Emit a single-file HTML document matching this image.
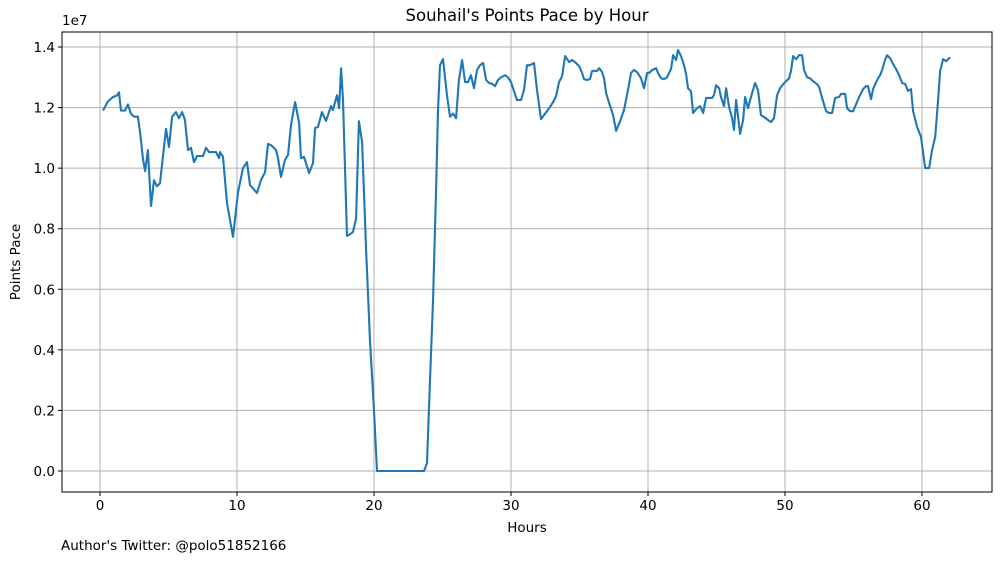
<!DOCTYPE html>
<html><head><meta charset="utf-8"><style>
body{margin:0;background:#fff;}
svg text{font-family:"DejaVu Sans","Liberation Sans",sans-serif;fill:#000;}
</style></head><body>
<svg id="chart" width="1001" height="562" viewBox="0 0 1001 562" xmlns="http://www.w3.org/2000/svg">
<rect x="0" y="0" width="1001" height="562" fill="#fff"/>
<g id="grid"></g>
<g id="ticks"></g>
<path id="line" fill="none" stroke="#1f77b4" stroke-width="2.1" stroke-linejoin="round"/>
<rect x="62" y="32" width="930" height="460" fill="none" stroke="#000" stroke-width="1"/>
<text x="527" y="21" font-size="16.5" text-anchor="middle">Souhail's Points Pace by Hour</text>
<text x="62" y="25" font-size="13.5">1e7</text>
<text x="527" y="532" font-size="13.5" text-anchor="middle">Hours</text>
<text x="20" y="262" font-size="13.5" text-anchor="middle" transform="rotate(-90 20 262)">Points Pace</text>
<text x="61" y="550" font-size="13.5">Author's Twitter: @polo51852166</text>
</svg>
<script>
const xTicks=[0,10,20,30,40,50,60];
const yTicks=[0,0.2,0.4,0.6,0.8,1.0,1.2,1.4];
const yTickLabels=["0.0","0.2","0.4","0.6","0.8","1.0","1.2","1.4"];
const hours=[0.22,0.58,0.95,1.24,1.39,1.53,1.83,2.04,2.26,2.48,2.77,2.92,3.14,3.29,3.5,3.72,3.94,4.16,4.38,4.6,4.82,5.04,5.26,5.55,5.77,5.99,6.2,6.42,6.64,6.86,7.08,7.3,7.52,7.74,7.96,8.25,8.47,8.69,8.76,8.98,9.27,9.71,10.07,10.44,10.73,10.95,11.46,11.75,12.05,12.26,12.48,12.85,12.99,13.21,13.5,13.72,13.94,14.24,14.53,14.67,14.89,15.26,15.55,15.7,15.91,16.2,16.5,16.86,17.0,17.3,17.45,17.6,17.74,18.03,18.25,18.47,18.69,18.9,19.13,19.42,19.71,20.0,20.22,23.65,23.87,24.09,24.31,24.53,24.67,24.82,25.04,25.33,25.55,25.77,25.99,26.2,26.43,26.65,26.86,27.08,27.3,27.52,27.74,27.96,28.18,28.4,28.62,28.84,29.05,29.27,29.57,29.78,30.0,30.22,30.44,30.73,30.95,31.17,31.39,31.68,31.9,32.19,32.41,32.63,32.85,33.07,33.29,33.5,33.73,33.95,34.24,34.46,34.68,34.97,35.19,35.33,35.55,35.77,35.92,36.28,36.43,36.65,36.79,36.94,37.16,37.45,37.67,37.96,38.25,38.54,38.76,38.98,39.2,39.49,39.71,39.93,40.08,40.3,40.59,40.73,40.95,41.17,41.39,41.68,41.83,42.05,42.19,42.41,42.63,42.78,42.92,43.14,43.29,43.58,43.8,44.02,44.24,44.46,44.68,44.82,44.97,45.19,45.33,45.55,45.7,45.92,46.14,46.28,46.43,46.72,46.94,47.09,47.3,47.6,47.82,48.03,48.25,48.47,48.76,48.98,49.2,49.42,49.64,49.86,50.08,50.3,50.44,50.59,50.81,51.03,51.25,51.39,51.61,51.83,52.05,52.34,52.49,52.71,53.0,53.22,53.44,53.66,53.95,54.09,54.39,54.53,54.75,54.97,55.19,55.41,55.7,55.92,56.06,56.28,56.43,56.72,56.94,57.09,57.3,57.45,57.67,57.89,58.11,58.33,58.55,58.77,58.98,59.2,59.35,59.64,59.93,60.23,60.52,60.74,60.96,61.17,61.32,61.54,61.76,62.05];
const pace=[1.19,1.22,1.235,1.24,1.25,1.19,1.19,1.21,1.18,1.17,1.17,1.12,1.03,0.99,1.06,0.875,0.96,0.94,0.95,1.04,1.13,1.07,1.17,1.185,1.165,1.185,1.16,1.06,1.067,1.02,1.04,1.04,1.04,1.067,1.053,1.053,1.053,1.033,1.053,1.037,0.885,0.773,0.92,1.0,1.02,0.944,0.918,0.961,0.987,1.08,1.076,1.06,1.033,0.971,1.027,1.043,1.142,1.218,1.149,1.033,1.037,0.984,1.017,1.133,1.136,1.185,1.156,1.205,1.192,1.241,1.198,1.33,1.225,0.776,0.782,0.789,0.835,1.155,1.086,0.73,0.43,0.2,0.0,0.0,0.026,0.3,0.56,0.93,1.19,1.34,1.36,1.24,1.17,1.18,1.165,1.29,1.357,1.284,1.284,1.307,1.264,1.324,1.34,1.347,1.291,1.281,1.278,1.271,1.291,1.3,1.307,1.3,1.284,1.254,1.225,1.225,1.258,1.34,1.34,1.347,1.258,1.162,1.175,1.188,1.202,1.218,1.238,1.284,1.304,1.37,1.35,1.357,1.35,1.337,1.314,1.294,1.291,1.294,1.321,1.321,1.33,1.317,1.297,1.248,1.215,1.175,1.123,1.155,1.192,1.258,1.314,1.324,1.317,1.297,1.264,1.314,1.314,1.324,1.33,1.314,1.297,1.294,1.3,1.327,1.373,1.357,1.39,1.37,1.34,1.311,1.264,1.254,1.182,1.198,1.205,1.182,1.232,1.232,1.232,1.241,1.274,1.264,1.235,1.205,1.264,1.202,1.165,1.126,1.225,1.113,1.159,1.235,1.198,1.248,1.281,1.258,1.175,1.169,1.159,1.152,1.165,1.241,1.264,1.277,1.287,1.297,1.321,1.37,1.36,1.373,1.373,1.324,1.3,1.297,1.287,1.277,1.268,1.232,1.188,1.182,1.182,1.232,1.235,1.245,1.245,1.198,1.188,1.188,1.211,1.235,1.261,1.271,1.271,1.228,1.261,1.291,1.307,1.324,1.357,1.373,1.363,1.344,1.327,1.307,1.281,1.278,1.255,1.261,1.188,1.136,1.103,1.0,1.0,1.06,1.103,1.221,1.32,1.36,1.353,1.366];

const NS="http://www.w3.org/2000/svg";
const L=62,R=992,T=32,B=492;
function xs(h){return 100+h*13.7;}
function ys(v){return 471-v*302.86;}
const grid=document.getElementById('grid'),ticks=document.getElementById('ticks');
function mk(tag,attrs,parent){const e=document.createElementNS(NS,tag);for(const k in attrs)e.setAttribute(k,attrs[k]);parent.appendChild(e);return e;}
xTicks.forEach(t=>{
  const x=xs(t);
  const g=mk('line',{x1:x,x2:x,y1:T,y2:B,stroke:'#b0b0b0','stroke-width':1},grid);
  
  
  const tk=mk('line',{x1:x,x2:x,y1:B,y2:B+4,stroke:'#000'},ticks);
  
  
  const tx=mk('text',{x:x,y:B+18,'font-size':13.5,'text-anchor':'middle'},ticks);
  tx.textContent=String(t);
  
  
});
yTicks.forEach((t,i)=>{
  const y=ys(t);
  const g=mk('line',{x1:L,x2:R,y1:y,y2:y,stroke:'#b0b0b0','stroke-width':1},grid);
  
  
  const tk=mk('line',{x1:L-4,x2:L,y1:y,y2:y,stroke:'#000'},ticks);
  
  
  const tx=mk('text',{x:L-7,y:y+5,'font-size':13.5,'text-anchor':'end'},ticks);
  tx.textContent=yTickLabels[i];
  
  
});
let d='';
hours.forEach((h,i)=>{d+=(i?'L':'M')+xs(h).toFixed(1)+','+ys(pace[i]).toFixed(1);});
document.getElementById('line').setAttribute('d',d);
</script>
</body></html>
